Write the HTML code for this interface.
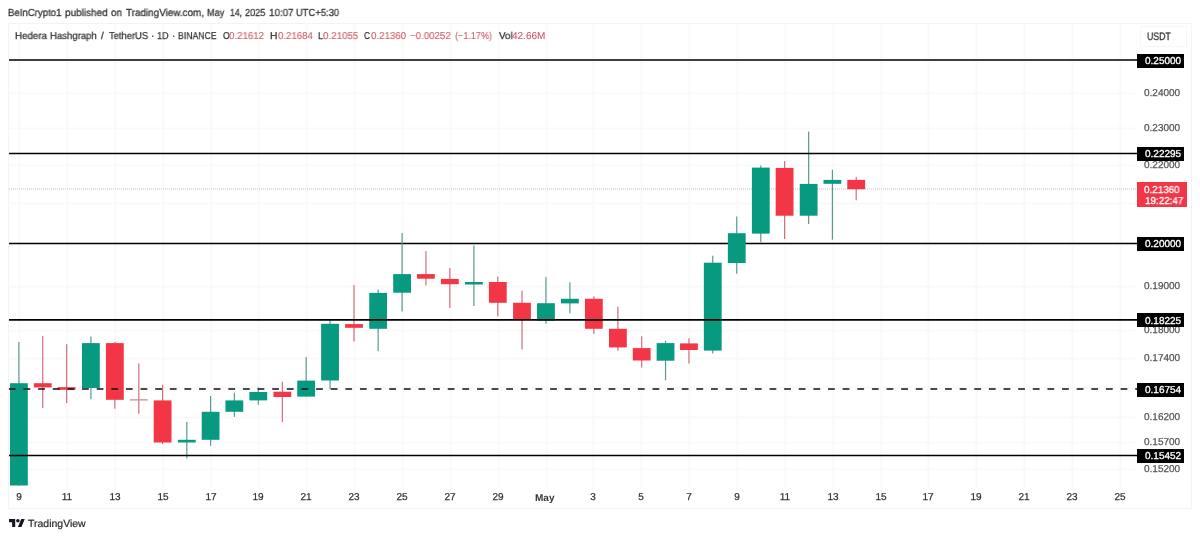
<!DOCTYPE html>
<html><head><meta charset="utf-8">
<style>
html,body{margin:0;padding:0;background:#fff;}
body{width:1200px;height:538px;position:relative;overflow:hidden;font-family:"Liberation Sans",sans-serif;}
body>div{will-change:transform;text-rendering:geometricPrecision;}
svg{display:block;}
</style></head><body>
<div style="position:absolute;left:8px;top:23px;width:1184px;height:486px;border:1px solid #f3f3f3;box-sizing:border-box"></div>
<svg style="position:absolute;left:0;top:0" width="1200" height="538" viewBox="0 0 1200 538">
<line x1="8.5" y1="60.5" x2="1137" y2="60.5" stroke="#f9f9f9" stroke-width="2"/>
<line x1="8.5" y1="93.5" x2="1137" y2="93.5" stroke="#f9f9f9" stroke-width="2"/>
<line x1="8.5" y1="128.5" x2="1137" y2="128.5" stroke="#f9f9f9" stroke-width="2"/>
<line x1="8.5" y1="165.5" x2="1137" y2="165.5" stroke="#f9f9f9" stroke-width="2"/>
<line x1="8.5" y1="203.5" x2="1137" y2="203.5" stroke="#f9f9f9" stroke-width="2"/>
<line x1="8.5" y1="243.5" x2="1137" y2="243.5" stroke="#f9f9f9" stroke-width="2"/>
<line x1="8.5" y1="286.5" x2="1137" y2="286.5" stroke="#f9f9f9" stroke-width="2"/>
<line x1="8.5" y1="330.5" x2="1137" y2="330.5" stroke="#f9f9f9" stroke-width="2"/>
<line x1="8.5" y1="358.5" x2="1137" y2="358.5" stroke="#f9f9f9" stroke-width="2"/>
<line x1="8.5" y1="387.5" x2="1137" y2="387.5" stroke="#f9f9f9" stroke-width="2"/>
<line x1="8.5" y1="417.5" x2="1137" y2="417.5" stroke="#f9f9f9" stroke-width="2"/>
<line x1="8.5" y1="442.5" x2="1137" y2="442.5" stroke="#f9f9f9" stroke-width="2"/>
<line x1="8.5" y1="469.5" x2="1137" y2="469.5" stroke="#f9f9f9" stroke-width="2"/>
<line x1="19.5" y1="23.5" x2="19.5" y2="487" stroke="#f9f9f9" stroke-width="2"/>
<line x1="67.5" y1="23.5" x2="67.5" y2="487" stroke="#f9f9f9" stroke-width="2"/>
<line x1="115.5" y1="23.5" x2="115.5" y2="487" stroke="#f9f9f9" stroke-width="2"/>
<line x1="163.5" y1="23.5" x2="163.5" y2="487" stroke="#f9f9f9" stroke-width="2"/>
<line x1="211.5" y1="23.5" x2="211.5" y2="487" stroke="#f9f9f9" stroke-width="2"/>
<line x1="258.5" y1="23.5" x2="258.5" y2="487" stroke="#f9f9f9" stroke-width="2"/>
<line x1="306.5" y1="23.5" x2="306.5" y2="487" stroke="#f9f9f9" stroke-width="2"/>
<line x1="354.5" y1="23.5" x2="354.5" y2="487" stroke="#f9f9f9" stroke-width="2"/>
<line x1="402.5" y1="23.5" x2="402.5" y2="487" stroke="#f9f9f9" stroke-width="2"/>
<line x1="450.5" y1="23.5" x2="450.5" y2="487" stroke="#f9f9f9" stroke-width="2"/>
<line x1="498.5" y1="23.5" x2="498.5" y2="487" stroke="#f9f9f9" stroke-width="2"/>
<line x1="546.5" y1="23.5" x2="546.5" y2="487" stroke="#f9f9f9" stroke-width="2"/>
<line x1="593.5" y1="23.5" x2="593.5" y2="487" stroke="#f9f9f9" stroke-width="2"/>
<line x1="641.5" y1="23.5" x2="641.5" y2="487" stroke="#f9f9f9" stroke-width="2"/>
<line x1="689.5" y1="23.5" x2="689.5" y2="487" stroke="#f9f9f9" stroke-width="2"/>
<line x1="737.5" y1="23.5" x2="737.5" y2="487" stroke="#f9f9f9" stroke-width="2"/>
<line x1="785.5" y1="23.5" x2="785.5" y2="487" stroke="#f9f9f9" stroke-width="2"/>
<line x1="833.5" y1="23.5" x2="833.5" y2="487" stroke="#f9f9f9" stroke-width="2"/>
<line x1="881.5" y1="23.5" x2="881.5" y2="487" stroke="#f9f9f9" stroke-width="2"/>
<line x1="928.5" y1="23.5" x2="928.5" y2="487" stroke="#f9f9f9" stroke-width="2"/>
<line x1="976.5" y1="23.5" x2="976.5" y2="487" stroke="#f9f9f9" stroke-width="2"/>
<line x1="1024.5" y1="23.5" x2="1024.5" y2="487" stroke="#f9f9f9" stroke-width="2"/>
<line x1="1072.5" y1="23.5" x2="1072.5" y2="487" stroke="#f9f9f9" stroke-width="2"/>
<line x1="1120.5" y1="23.5" x2="1120.5" y2="487" stroke="#f9f9f9" stroke-width="2"/>
<line x1="9" y1="189.0" x2="1137" y2="189.0" stroke="#d4b4b9" stroke-width="1" stroke-dasharray="1 1"/>
<line x1="9" y1="243.5" x2="1137" y2="243.5" stroke="#000" stroke-width="1.6"/>
<rect x="18.30" y="342.0" width="1.2" height="143.50" fill="#5a9990"/>
<rect x="10.00" y="383.2" width="17.8" height="102.30" fill="#089981"/>
<rect x="42.15" y="335.9" width="1.2" height="72.30" fill="#cf6f7a"/>
<rect x="33.85" y="383.2" width="17.8" height="4.20" fill="#f23645"/>
<rect x="66.05" y="344.2" width="1.2" height="58.90" fill="#cf6f7a"/>
<rect x="57.75" y="387.2" width="17.8" height="2.60" fill="#f23645"/>
<rect x="90.30" y="336.5" width="1.2" height="62.70" fill="#5a9990"/>
<rect x="82.00" y="343.1" width="17.8" height="44.90" fill="#089981"/>
<rect x="114.25" y="342.0" width="1.2" height="66.70" fill="#cf6f7a"/>
<rect x="105.95" y="343.1" width="17.8" height="56.70" fill="#f23645"/>
<rect x="138.20" y="363.3" width="1.2" height="50.50" fill="#cf6f7a"/>
<rect x="129.90" y="399.1" width="17.8" height="1.50" fill="#d49aa1"/>
<rect x="162.00" y="384.7" width="1.2" height="59.30" fill="#cf6f7a"/>
<rect x="153.70" y="400.4" width="17.8" height="42.10" fill="#f23645"/>
<rect x="186.20" y="422.0" width="1.2" height="36.40" fill="#5a9990"/>
<rect x="177.90" y="439.8" width="17.8" height="2.70" fill="#089981"/>
<rect x="210.00" y="396.0" width="1.2" height="49.80" fill="#5a9990"/>
<rect x="201.70" y="411.8" width="17.8" height="28.00" fill="#089981"/>
<rect x="233.75" y="392.7" width="1.2" height="24.20" fill="#5a9990"/>
<rect x="225.45" y="400.4" width="17.8" height="11.40" fill="#089981"/>
<rect x="257.70" y="387.4" width="1.2" height="17.40" fill="#5a9990"/>
<rect x="249.40" y="392.0" width="17.8" height="8.40" fill="#089981"/>
<rect x="281.75" y="381.6" width="1.2" height="40.60" fill="#cf6f7a"/>
<rect x="273.45" y="391.7" width="17.8" height="5.30" fill="#f23645"/>
<rect x="305.55" y="357.0" width="1.2" height="39.60" fill="#5a9990"/>
<rect x="297.25" y="380.6" width="17.8" height="16.00" fill="#089981"/>
<rect x="329.45" y="320.0" width="1.2" height="69.00" fill="#5a9990"/>
<rect x="321.15" y="323.8" width="17.8" height="56.70" fill="#089981"/>
<rect x="353.40" y="285.1" width="1.2" height="56.40" fill="#cf6f7a"/>
<rect x="345.10" y="324.1" width="17.8" height="3.70" fill="#f23645"/>
<rect x="377.55" y="289.5" width="1.2" height="61.70" fill="#5a9990"/>
<rect x="369.25" y="292.9" width="17.8" height="35.90" fill="#089981"/>
<rect x="401.50" y="233.0" width="1.2" height="78.50" fill="#5a9990"/>
<rect x="393.20" y="274.1" width="17.8" height="18.60" fill="#089981"/>
<rect x="425.35" y="251.1" width="1.2" height="34.30" fill="#cf6f7a"/>
<rect x="417.05" y="274.1" width="17.8" height="4.60" fill="#f23645"/>
<rect x="449.25" y="268.0" width="1.2" height="39.90" fill="#cf6f7a"/>
<rect x="440.95" y="278.9" width="17.8" height="5.30" fill="#f23645"/>
<rect x="473.30" y="245.5" width="1.2" height="60.50" fill="#5a9990"/>
<rect x="465.00" y="282.0" width="17.8" height="2.50" fill="#089981"/>
<rect x="497.20" y="276.5" width="1.2" height="39.90" fill="#cf6f7a"/>
<rect x="488.90" y="282.0" width="17.8" height="20.80" fill="#f23645"/>
<rect x="521.40" y="290.7" width="1.2" height="58.80" fill="#cf6f7a"/>
<rect x="513.10" y="302.8" width="17.8" height="17.20" fill="#f23645"/>
<rect x="545.35" y="277.1" width="1.2" height="46.60" fill="#5a9990"/>
<rect x="537.05" y="303.2" width="17.8" height="17.40" fill="#089981"/>
<rect x="569.30" y="282.4" width="1.2" height="30.90" fill="#5a9990"/>
<rect x="561.00" y="298.8" width="17.8" height="4.60" fill="#089981"/>
<rect x="593.25" y="296.4" width="1.2" height="37.50" fill="#cf6f7a"/>
<rect x="584.95" y="298.8" width="17.8" height="30.00" fill="#f23645"/>
<rect x="617.30" y="306.8" width="1.2" height="44.00" fill="#cf6f7a"/>
<rect x="609.00" y="328.8" width="17.8" height="18.60" fill="#f23645"/>
<rect x="641.10" y="336.3" width="1.2" height="31.40" fill="#cf6f7a"/>
<rect x="632.80" y="348.1" width="17.8" height="12.40" fill="#f23645"/>
<rect x="664.95" y="340.6" width="1.2" height="39.70" fill="#5a9990"/>
<rect x="656.65" y="343.1" width="17.8" height="17.60" fill="#089981"/>
<rect x="688.35" y="338.3" width="1.2" height="25.30" fill="#cf6f7a"/>
<rect x="680.05" y="343.4" width="17.8" height="6.60" fill="#f23645"/>
<rect x="712.15" y="255.7" width="1.2" height="97.80" fill="#5a9990"/>
<rect x="703.85" y="262.7" width="17.8" height="87.90" fill="#089981"/>
<rect x="736.15" y="216.5" width="1.2" height="57.20" fill="#5a9990"/>
<rect x="727.85" y="233.2" width="17.8" height="29.80" fill="#089981"/>
<rect x="760.20" y="165.5" width="1.2" height="76.60" fill="#5a9990"/>
<rect x="751.90" y="167.6" width="17.8" height="66.00" fill="#089981"/>
<rect x="784.00" y="161.1" width="1.2" height="77.90" fill="#cf6f7a"/>
<rect x="775.70" y="167.9" width="17.8" height="47.80" fill="#f23645"/>
<rect x="808.05" y="131.6" width="1.2" height="92.40" fill="#5a9990"/>
<rect x="799.75" y="183.9" width="17.8" height="31.80" fill="#089981"/>
<rect x="831.80" y="169.7" width="1.2" height="70.00" fill="#5a9990"/>
<rect x="823.50" y="179.9" width="17.8" height="3.90" fill="#089981"/>
<rect x="855.60" y="177.0" width="1.2" height="23.30" fill="#cf6f7a"/>
<rect x="847.30" y="179.9" width="17.8" height="9.30" fill="#f23645"/>
<line x1="9" y1="60.0" x2="1137" y2="60.0" stroke="#000" stroke-width="1.6"/>
<line x1="9" y1="153.5" x2="1137" y2="153.5" stroke="#000" stroke-width="1.6"/>
<line x1="9" y1="319.9" x2="1137" y2="319.9" stroke="#000" stroke-width="1.6"/>
<line x1="9" y1="455.5" x2="1137" y2="455.5" stroke="#000" stroke-width="1.6"/>
<line x1="8.9" y1="389.0" x2="1137" y2="389.0" stroke="#111" stroke-width="1.7" stroke-dasharray="6.8 7.827"/>
</svg>
<div style="position:absolute;left:8.21px;top:9.37px;font-size:10.2px;line-height:1;white-space:pre;color:#3a3a3a;transform:scaleX(0.9438);transform-origin:0 0;-webkit-text-stroke:0.3px #3a3a3a;">BeInCrypto1</div>
<div style="position:absolute;left:65.35px;top:9.37px;font-size:10.2px;line-height:1;white-space:pre;color:#3a3a3a;transform:scaleX(0.9798);transform-origin:0 0;-webkit-text-stroke:0.3px #3a3a3a;">published</div>
<div style="position:absolute;left:110.99px;top:9.37px;font-size:10.2px;line-height:1;white-space:pre;color:#3a3a3a;transform:scaleX(0.9560);transform-origin:0 0;-webkit-text-stroke:0.3px #3a3a3a;">on</div>
<div style="position:absolute;left:125.78px;top:9.37px;font-size:10.2px;line-height:1;white-space:pre;color:#3a3a3a;transform:scaleX(0.9703);transform-origin:0 0;-webkit-text-stroke:0.3px #3a3a3a;">TradingView.com,</div>
<div style="position:absolute;left:206.75px;top:9.37px;font-size:10.2px;line-height:1;white-space:pre;color:#3a3a3a;transform:scaleX(0.8962);transform-origin:0 0;-webkit-text-stroke:0.3px #3a3a3a;">May</div>
<div style="position:absolute;left:229.55px;top:9.37px;font-size:10.2px;line-height:1;white-space:pre;color:#3a3a3a;transform:scaleX(0.8483);transform-origin:0 0;-webkit-text-stroke:0.3px #3a3a3a;">14,</div>
<div style="position:absolute;left:244.54px;top:9.37px;font-size:10.2px;line-height:1;white-space:pre;color:#3a3a3a;transform:scaleX(0.8965);transform-origin:0 0;-webkit-text-stroke:0.3px #3a3a3a;">2025</div>
<div style="position:absolute;left:269.06px;top:9.37px;font-size:10.2px;line-height:1;white-space:pre;color:#3a3a3a;transform:scaleX(0.9649);transform-origin:0 0;-webkit-text-stroke:0.3px #3a3a3a;">10:07</div>
<div style="position:absolute;left:295.97px;top:9.37px;font-size:10.2px;line-height:1;white-space:pre;color:#3a3a3a;transform:scaleX(0.9212);transform-origin:0 0;-webkit-text-stroke:0.3px #3a3a3a;">UTC+5:30</div>
<div style="position:absolute;left:15.19px;top:32.40px;font-size:10.0px;line-height:1;white-space:pre;color:#333;transform:scaleX(0.9758);transform-origin:0 0;-webkit-text-stroke:0.25px #333;">Hedera</div>
<div style="position:absolute;left:50.01px;top:32.40px;font-size:10.0px;line-height:1;white-space:pre;color:#333;transform:scaleX(0.9568);transform-origin:0 0;-webkit-text-stroke:0.25px #333;">Hashgraph</div>
<div style="position:absolute;left:100.81px;top:32.40px;font-size:10.0px;line-height:1;white-space:pre;color:#333;transform:scaleX(1.0000);transform-origin:0 0;-webkit-text-stroke:0.25px #333;">/</div>
<div style="position:absolute;left:108.79px;top:32.40px;font-size:10.0px;line-height:1;white-space:pre;color:#333;transform:scaleX(0.9385);transform-origin:0 0;-webkit-text-stroke:0.25px #333;">TetherUS</div>
<div style="position:absolute;left:151.09px;top:32.40px;font-size:10.0px;line-height:1;white-space:pre;color:#333;transform:scaleX(1.0000);transform-origin:0 0;-webkit-text-stroke:0.25px #333;">·</div>
<div style="position:absolute;left:157.32px;top:32.40px;font-size:10.0px;line-height:1;white-space:pre;color:#333;transform:scaleX(0.9091);transform-origin:0 0;-webkit-text-stroke:0.25px #333;">1D</div>
<div style="position:absolute;left:172.09px;top:32.40px;font-size:10.0px;line-height:1;white-space:pre;color:#333;transform:scaleX(1.0000);transform-origin:0 0;-webkit-text-stroke:0.25px #333;">·</div>
<div style="position:absolute;left:178.28px;top:32.40px;font-size:10.0px;line-height:1;white-space:pre;color:#333;transform:scaleX(0.8681);transform-origin:0 0;-webkit-text-stroke:0.25px #333;">BINANCE</div>
<div style="position:absolute;left:222.69px;top:32.40px;font-size:10.0px;line-height:1;white-space:pre;color:#333;transform:scaleX(0.8645);transform-origin:0 0;-webkit-text-stroke:0.25px #333;">O</div>
<div style="position:absolute;left:229.41px;top:32.40px;font-size:10.0px;line-height:1;white-space:pre;color:#cf5866;transform:scaleX(0.9709);transform-origin:0 0;-webkit-text-stroke:0.1px #cf5866;">0.21612</div>
<div style="position:absolute;left:270.40px;top:32.40px;font-size:10.0px;line-height:1;white-space:pre;color:#333;transform:scaleX(1.0314);transform-origin:0 0;-webkit-text-stroke:0.25px #333;">H</div>
<div style="position:absolute;left:277.71px;top:32.40px;font-size:10.0px;line-height:1;white-space:pre;color:#cf5866;transform:scaleX(0.9633);transform-origin:0 0;-webkit-text-stroke:0.1px #cf5866;">0.21684</div>
<div style="position:absolute;left:318.25px;top:32.40px;font-size:10.0px;line-height:1;white-space:pre;color:#333;transform:scaleX(0.9091);transform-origin:0 0;-webkit-text-stroke:0.25px #333;">L</div>
<div style="position:absolute;left:323.11px;top:32.40px;font-size:10.0px;line-height:1;white-space:pre;color:#cf5866;transform:scaleX(0.9766);transform-origin:0 0;-webkit-text-stroke:0.1px #cf5866;">0.21055</div>
<div style="position:absolute;left:364.34px;top:32.40px;font-size:10.0px;line-height:1;white-space:pre;color:#333;transform:scaleX(0.8268);transform-origin:0 0;-webkit-text-stroke:0.25px #333;">C</div>
<div style="position:absolute;left:370.51px;top:32.40px;font-size:10.0px;line-height:1;white-space:pre;color:#cf5866;transform:scaleX(0.9717);transform-origin:0 0;-webkit-text-stroke:0.1px #cf5866;">0.21360</div>
<div style="position:absolute;left:410.32px;top:32.40px;font-size:10.0px;line-height:1;white-space:pre;color:#cf5866;transform:scaleX(0.9689);transform-origin:0 0;-webkit-text-stroke:0.1px #cf5866;">−0.00252</div>
<div style="position:absolute;left:455.23px;top:32.40px;font-size:10.0px;line-height:1;white-space:pre;color:#cf5866;transform:scaleX(0.9060);transform-origin:0 0;-webkit-text-stroke:0.1px #cf5866;">(−1.17%)</div>
<div style="position:absolute;left:499.15px;top:32.40px;font-size:10.0px;line-height:1;white-space:pre;color:#333;transform:scaleX(0.9791);transform-origin:0 0;-webkit-text-stroke:0.25px #333;">Vol</div>
<div style="position:absolute;left:512.48px;top:32.40px;font-size:10.0px;line-height:1;white-space:pre;color:#cf5866;transform:scaleX(1.0000);transform-origin:0 0;-webkit-text-stroke:0.1px #cf5866;">42.66M</div>
<div style="position:absolute;left:1140px;top:26px;width:47px;height:21px;border:1px solid #f6f6f6;box-sizing:border-box"></div>
<div style="position:absolute;left:1147.02px;top:32.07px;font-size:10.8px;line-height:1;white-space:pre;color:#333;transform:scaleX(0.8085);transform-origin:0 0;-webkit-text-stroke:0.3px #333;">USDT</div>
<div style="position:absolute;line-height:1;white-space:pre;left:1143.90px;top:89.47px;font-size:10px;color:#555;-webkit-text-stroke:0.25px #555;">0.24000</div>
<div style="position:absolute;line-height:1;white-space:pre;left:1143.90px;top:124.47px;font-size:10px;color:#555;-webkit-text-stroke:0.25px #555;">0.23000</div>
<div style="position:absolute;line-height:1;white-space:pre;left:1143.90px;top:161.03px;font-size:10px;color:#555;-webkit-text-stroke:0.25px #555;">0.22000</div>
<div style="position:absolute;line-height:1;white-space:pre;left:1143.90px;top:281.60px;font-size:10px;color:#555;-webkit-text-stroke:0.25px #555;">0.19000</div>
<div style="position:absolute;line-height:1;white-space:pre;left:1143.90px;top:326.06px;font-size:10px;color:#555;-webkit-text-stroke:0.25px #555;">0.18000</div>
<div style="position:absolute;line-height:1;white-space:pre;left:1143.90px;top:353.94px;font-size:10px;color:#555;-webkit-text-stroke:0.25px #555;">0.17400</div>
<div style="position:absolute;line-height:1;white-space:pre;left:1143.90px;top:412.71px;font-size:10px;color:#555;-webkit-text-stroke:0.25px #555;">0.16200</div>
<div style="position:absolute;line-height:1;white-space:pre;left:1143.90px;top:438.49px;font-size:10px;color:#555;-webkit-text-stroke:0.25px #555;">0.15700</div>
<div style="position:absolute;line-height:1;white-space:pre;left:1143.90px;top:465.11px;font-size:10px;color:#555;-webkit-text-stroke:0.25px #555;">0.15200</div>
<div style="position:absolute;left:1137.2px;top:53.50px;width:47.0px;height:13.6px;background:#000"></div>
<div style="position:absolute;line-height:1;white-space:pre;left:1144.60px;top:56.70px;font-size:10px;color:#fff;-webkit-text-stroke:0.3px #fff;">0.25000</div>
<div style="position:absolute;left:1137.2px;top:147.00px;width:47.0px;height:13.6px;background:#000"></div>
<div style="position:absolute;line-height:1;white-space:pre;left:1144.60px;top:150.20px;font-size:10px;color:#fff;-webkit-text-stroke:0.3px #fff;">0.22295</div>
<div style="position:absolute;left:1137.2px;top:237.00px;width:47.0px;height:13.6px;background:#000"></div>
<div style="position:absolute;line-height:1;white-space:pre;left:1144.60px;top:240.20px;font-size:10px;color:#fff;-webkit-text-stroke:0.3px #fff;">0.20000</div>
<div style="position:absolute;left:1137.2px;top:313.40px;width:47.0px;height:13.6px;background:#000"></div>
<div style="position:absolute;line-height:1;white-space:pre;left:1144.60px;top:316.60px;font-size:10px;color:#fff;-webkit-text-stroke:0.3px #fff;">0.18225</div>
<div style="position:absolute;left:1137.2px;top:382.50px;width:47.0px;height:13.6px;background:#000"></div>
<div style="position:absolute;line-height:1;white-space:pre;left:1144.60px;top:385.70px;font-size:10px;color:#fff;-webkit-text-stroke:0.3px #fff;">0.16754</div>
<div style="position:absolute;left:1137.2px;top:449.00px;width:47.0px;height:13.6px;background:#000"></div>
<div style="position:absolute;line-height:1;white-space:pre;left:1144.60px;top:452.20px;font-size:10px;color:#fff;-webkit-text-stroke:0.3px #fff;">0.15452</div>
<div style="position:absolute;left:1137.4px;top:182.3px;width:49.8px;height:25px;background:#f23645"></div>
<div style="position:absolute;left:1144.21px;top:185.80px;font-size:10px;line-height:1;white-space:pre;color:#fff;transform:scaleX(0.9844);transform-origin:0 0;-webkit-text-stroke:0.3px #fff;">0.21360</div>
<div style="position:absolute;left:1145.46px;top:197.40px;font-size:10px;line-height:1;white-space:pre;color:#fff;transform:scaleX(0.9847);transform-origin:0 0;-webkit-text-stroke:0.3px #fff;">19:22:47</div>
<div style="position:absolute;left:-0.91px;top:493.10px;width:40px;text-align:center;font-size:10px;line-height:1;color:#333;-webkit-text-stroke:0.25px #333;">9</div>
<div style="position:absolute;left:46.95px;top:493.10px;width:40px;text-align:center;font-size:10px;line-height:1;color:#333;-webkit-text-stroke:0.25px #333;">11</div>
<div style="position:absolute;left:94.81px;top:493.10px;width:40px;text-align:center;font-size:10px;line-height:1;color:#333;-webkit-text-stroke:0.25px #333;">13</div>
<div style="position:absolute;left:142.67px;top:493.10px;width:40px;text-align:center;font-size:10px;line-height:1;color:#333;-webkit-text-stroke:0.25px #333;">15</div>
<div style="position:absolute;left:190.53px;top:493.10px;width:40px;text-align:center;font-size:10px;line-height:1;color:#333;-webkit-text-stroke:0.25px #333;">17</div>
<div style="position:absolute;left:238.39px;top:493.10px;width:40px;text-align:center;font-size:10px;line-height:1;color:#333;-webkit-text-stroke:0.25px #333;">19</div>
<div style="position:absolute;left:286.25px;top:493.10px;width:40px;text-align:center;font-size:10px;line-height:1;color:#333;-webkit-text-stroke:0.25px #333;">21</div>
<div style="position:absolute;left:334.11px;top:493.10px;width:40px;text-align:center;font-size:10px;line-height:1;color:#333;-webkit-text-stroke:0.25px #333;">23</div>
<div style="position:absolute;left:381.97px;top:493.10px;width:40px;text-align:center;font-size:10px;line-height:1;color:#333;-webkit-text-stroke:0.25px #333;">25</div>
<div style="position:absolute;left:429.83px;top:493.10px;width:40px;text-align:center;font-size:10px;line-height:1;color:#333;-webkit-text-stroke:0.25px #333;">27</div>
<div style="position:absolute;left:477.69px;top:493.10px;width:40px;text-align:center;font-size:10px;line-height:1;color:#333;-webkit-text-stroke:0.25px #333;">29</div>
<div style="position:absolute;left:535.14px;top:494.40px;font-size:10px;line-height:1;white-space:pre;color:#333;font-weight:bold;transform:scaleX(0.9826);transform-origin:0 0;">May</div>
<div style="position:absolute;left:573.41px;top:493.10px;width:40px;text-align:center;font-size:10px;line-height:1;color:#333;-webkit-text-stroke:0.25px #333;">3</div>
<div style="position:absolute;left:621.27px;top:493.10px;width:40px;text-align:center;font-size:10px;line-height:1;color:#333;-webkit-text-stroke:0.25px #333;">5</div>
<div style="position:absolute;left:669.13px;top:493.10px;width:40px;text-align:center;font-size:10px;line-height:1;color:#333;-webkit-text-stroke:0.25px #333;">7</div>
<div style="position:absolute;left:716.99px;top:493.10px;width:40px;text-align:center;font-size:10px;line-height:1;color:#333;-webkit-text-stroke:0.25px #333;">9</div>
<div style="position:absolute;left:764.85px;top:493.10px;width:40px;text-align:center;font-size:10px;line-height:1;color:#333;-webkit-text-stroke:0.25px #333;">11</div>
<div style="position:absolute;left:812.71px;top:493.10px;width:40px;text-align:center;font-size:10px;line-height:1;color:#333;-webkit-text-stroke:0.25px #333;">13</div>
<div style="position:absolute;left:860.57px;top:493.10px;width:40px;text-align:center;font-size:10px;line-height:1;color:#333;-webkit-text-stroke:0.25px #333;">15</div>
<div style="position:absolute;left:908.43px;top:493.10px;width:40px;text-align:center;font-size:10px;line-height:1;color:#333;-webkit-text-stroke:0.25px #333;">17</div>
<div style="position:absolute;left:956.29px;top:493.10px;width:40px;text-align:center;font-size:10px;line-height:1;color:#333;-webkit-text-stroke:0.25px #333;">19</div>
<div style="position:absolute;left:1004.15px;top:493.10px;width:40px;text-align:center;font-size:10px;line-height:1;color:#333;-webkit-text-stroke:0.25px #333;">21</div>
<div style="position:absolute;left:1052.01px;top:493.10px;width:40px;text-align:center;font-size:10px;line-height:1;color:#333;-webkit-text-stroke:0.25px #333;">23</div>
<div style="position:absolute;left:1099.87px;top:493.10px;width:40px;text-align:center;font-size:10px;line-height:1;color:#333;-webkit-text-stroke:0.25px #333;">25</div>
<svg style="position:absolute;left:8.75px;top:519.2px" width="16" height="8.1" viewBox="0 4 36 18" preserveAspectRatio="none"><path d="M14 22H7V11H0V4h14v18zM28 22h-8l7.5-18h8L28 22z" fill="#131722"/><circle cx="20" cy="8" r="4" fill="#131722"/></svg>
<div style="position:absolute;left:28.06px;top:519.54px;font-size:10.4px;line-height:1;white-space:pre;color:#2a2a2a;transform:scaleX(1.0085);transform-origin:0 0;-webkit-text-stroke:0.2px #2a2a2a;">TradingView</div>
</body></html>
